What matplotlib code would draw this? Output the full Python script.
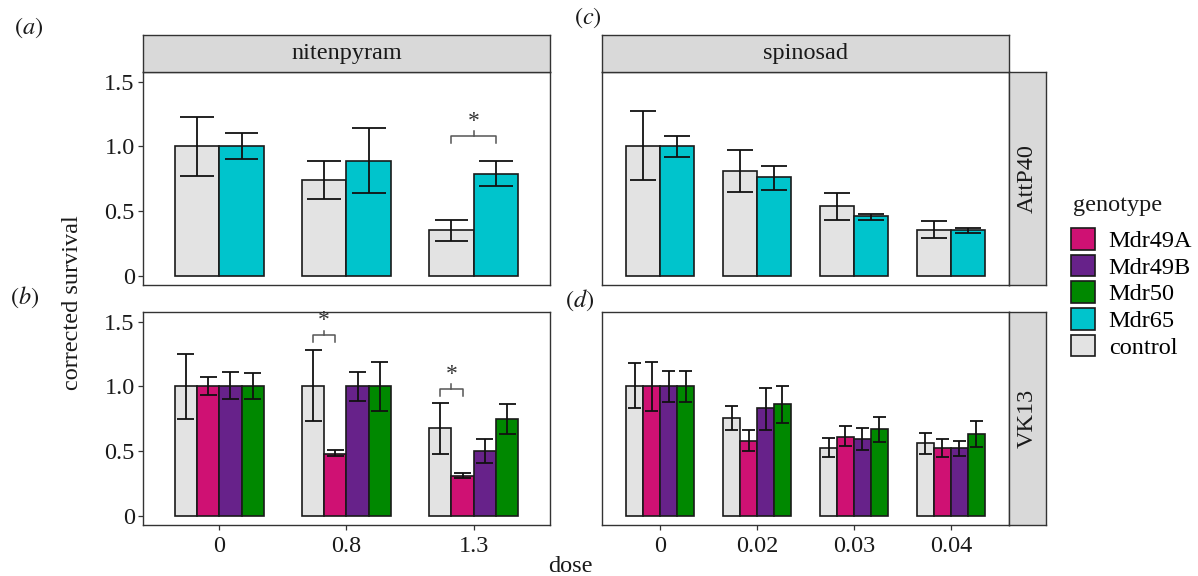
import matplotlib
matplotlib.use('Agg')
import matplotlib.pyplot as plt
from matplotlib.patches import Patch
import numpy as np

plt.rcParams['font.family'] = ['Liberation Serif', 'DejaVu Serif']
plt.rcParams['mathtext.fontset'] = 'stix'

# ---------------- data ----------------
nit_doses = ['0', '0.8', '1.3']
spin_doses = ['0', '0.02', '0.03', '0.04']
legend_genotypes = ['Mdr49A', 'Mdr49B', 'Mdr50', 'Mdr65', 'control']
genotype_colors = ['#CF1173', '#67228A', '#008800', '#00C4CC', '#E3E3E3']

# (a) nitenpyram, AttP40
a_genotypes = ['control', 'Mdr65']
a_mean = [[1.00, 0.74, 0.35], [1.00, 0.89, 0.79]]
a_lo = [[0.77, 0.59, 0.27], [0.90, 0.64, 0.69]]
a_hi = [[1.23, 0.89, 0.43], [1.10, 1.14, 0.89]]
a_sig = [(2, 0, 1, 1.08)]   # dose index, bar i, bar j, bracket height

# (c) spinosad, AttP40
c_genotypes = ['control', 'Mdr65']
c_mean = [[1.00, 0.81, 0.54, 0.35], [1.00, 0.76, 0.46, 0.35]]
c_lo = [[0.74, 0.65, 0.43, 0.29], [0.92, 0.66, 0.43, 0.33]]
c_hi = [[1.27, 0.97, 0.64, 0.42], [1.08, 0.85, 0.48, 0.37]]
c_sig = []

# (b) nitenpyram, VK13
b_genotypes = ['control', 'Mdr49A', 'Mdr49B', 'Mdr50']
b_mean = [[1.00, 1.00, 0.68], [1.00, 0.48, 0.31], [1.00, 1.00, 0.50], [1.00, 1.00, 0.75]]
b_lo = [[0.75, 0.73, 0.48], [0.93, 0.46, 0.29], [0.90, 0.89, 0.41], [0.90, 0.81, 0.63]]
b_hi = [[1.25, 1.28, 0.87], [1.07, 0.51, 0.33], [1.11, 1.11, 0.59], [1.10, 1.19, 0.86]]
b_sig = [(1, 0, 1, 1.395), (2, 0, 1, 0.98)]

# (d) spinosad, VK13
d_genotypes = ['control', 'Mdr49A', 'Mdr49B', 'Mdr50']
d_mean = [[1.00, 0.755, 0.525, 0.56], [1.00, 0.58, 0.61, 0.52],
          [1.00, 0.83, 0.59, 0.525], [1.00, 0.86, 0.67, 0.63]]
d_lo = [[0.83, 0.66, 0.45, 0.475], [0.81, 0.50, 0.535, 0.45],
        [0.88, 0.66, 0.51, 0.46], [0.88, 0.72, 0.57, 0.53]]
d_hi = [[1.18, 0.845, 0.60, 0.64], [1.19, 0.66, 0.69, 0.59],
        [1.12, 0.99, 0.68, 0.58], [1.12, 1.005, 0.765, 0.73]]
d_sig = []

y_ticks = [0, 0.5, 1.0, 1.5]
y_ticklabels = ['0', '0.5', '1.0', '1.5']

# ---------------- figure ----------------
W, H = 1198, 576
fig = plt.figure(figsize=(W / 100, H / 100), dpi=100)
color_of = dict(zip(legend_genotypes, genotype_colors))
FS = 17.5
DARK = '#333333'


def px_axes(x0, y0, x1, y1):
    return fig.add_axes([x0 / W, 1 - y1 / H, (x1 - x0) / W, (y1 - y0) / H])


def draw_panel(ax, doses, gens, mean, lo, hi, sig, total=0.7):
    n = len(gens)
    w = total / n
    idx = np.arange(len(doses))
    centers = {}
    for gi, g in enumerate(gens):
        x = idx + (gi - (n - 1) / 2) * w
        centers[gi] = x
        ax.bar(x, mean[gi], width=w, color=color_of[g], edgecolor='#1a1a1a',
               linewidth=1.2, zorder=2)
        ax.vlines(x, lo[gi], hi[gi], color='#111111', lw=1.3, zorder=3)
        ax.hlines(lo[gi], x - 0.38 * w, x + 0.38 * w, color='#111111', lw=1.3, zorder=3)
        ax.hlines(hi[gi], x - 0.38 * w, x + 0.38 * w, color='#111111', lw=1.3, zorder=3)
    for (di, i, j, yb) in sig:
        xi, xj = centers[i][di], centers[j][di]
        xm = (xi + xj) / 2
        ax.plot([xi, xi, xj, xj], [yb - 0.055, yb, yb, yb - 0.055],
                color='#555555', lw=1.1, zorder=3)
        ax.plot([xm, xm], [yb, yb + 0.035], color='#555555', lw=1.1, zorder=3)
        ax.text(xm, yb + 0.03, '*', ha='center', va='bottom', fontsize=17,
                color='#333333', zorder=4)
    ax.set_xlim(-0.6, len(doses) - 0.4)
    ax.set_ylim(-0.072, 1.575)
    ax.set_xticks(idx)
    ax.set_xticklabels(doses)
    ax.set_yticks(y_ticks)
    ax.set_yticklabels(y_ticklabels)
    ax.tick_params(direction='out', length=3.5, width=0.9, color=DARK,
                   labelsize=FS, pad=2.5, labelcolor='#1a1a1a')
    ax.tick_params(axis='x', pad=4.5)
    for s in ax.spines.values():
        s.set_color(DARK)
        s.set_linewidth(1.0)


def strip(x0, y0, x1, y1, text, rot=0):
    sa = px_axes(x0, y0, x1, y1)
    sa.set_facecolor('#D9D9D9')
    sa.set_xticks([])
    sa.set_yticks([])
    for s in sa.spines.values():
        s.set_color(DARK)
        s.set_linewidth(1.0)
    sa.text(0.5, 0.5, text, ha='center', va='center', rotation=rot,
            fontsize=FS, color='#1a1a1a', transform=sa.transAxes)


LX0, LX1 = 143, 550
RX0, RX1 = 602, 1009
TY0, TY1 = 72, 285
BY0, BY1 = 312, 525

ax_a = px_axes(LX0, TY0, LX1, TY1)
ax_c = px_axes(RX0, TY0, RX1, TY1)
ax_b = px_axes(LX0, BY0, LX1, BY1)
ax_d = px_axes(RX0, BY0, RX1, BY1)

draw_panel(ax_a, nit_doses, a_genotypes, a_mean, a_lo, a_hi, a_sig)
draw_panel(ax_c, spin_doses, c_genotypes, c_mean, c_lo, c_hi, c_sig)
draw_panel(ax_b, nit_doses, b_genotypes, b_mean, b_lo, b_hi, b_sig)
draw_panel(ax_d, spin_doses, d_genotypes, d_mean, d_lo, d_hi, d_sig)

for ax in (ax_a, ax_c):
    ax.tick_params(axis='x', bottom=False, labelbottom=False)
for ax in (ax_c, ax_d):
    ax.tick_params(axis='y', left=False, labelleft=False)

strip(LX0, 35, LX1, TY0, 'nitenpyram')
strip(RX0, 35, RX1, TY0, 'spinosad')
strip(RX1, TY0, 1046, TY1, 'AttP40', rot=90)
strip(RX1, BY0, 1046, BY1, 'VK13', rot=90)

fig.text(73 / W, 1 - 303 / H, 'corrected survival', rotation=90, ha='center',
         va='center', fontsize=FS, color='#1a1a1a')
fig.text(570 / W, 1 - 566 / H, 'dose', ha='center', va='center', fontsize=FS,
         color='#1a1a1a')

for lab, (px, py) in zip('abcd', [(29, 28), (25, 297), (588, 18), (580, 300)]):
    fig.text(px / W, 1 - py / H, r'$(\mathit{%s})$' % lab, ha='center', va='center',
             fontsize=FS, color='#1a1a1a')

# legend
fig.text(1073 / W, 1 - 205 / H, 'genotype', ha='left', va='center', fontsize=FS,
         color='#1a1a1a')
handles = [Patch(facecolor=c, edgecolor='#1a1a1a', linewidth=1.2) for c in genotype_colors]
leg = fig.legend(handles, legend_genotypes, loc='upper left',
                 bbox_to_anchor=(1071 / W, 1 - 228 / H), frameon=False,
                 fontsize=FS, handlelength=1.0, handleheight=1.0, handletextpad=0.55,
                 labelspacing=0.1, borderpad=0, borderaxespad=0)

fig.savefig('out.png', dpi=100)
